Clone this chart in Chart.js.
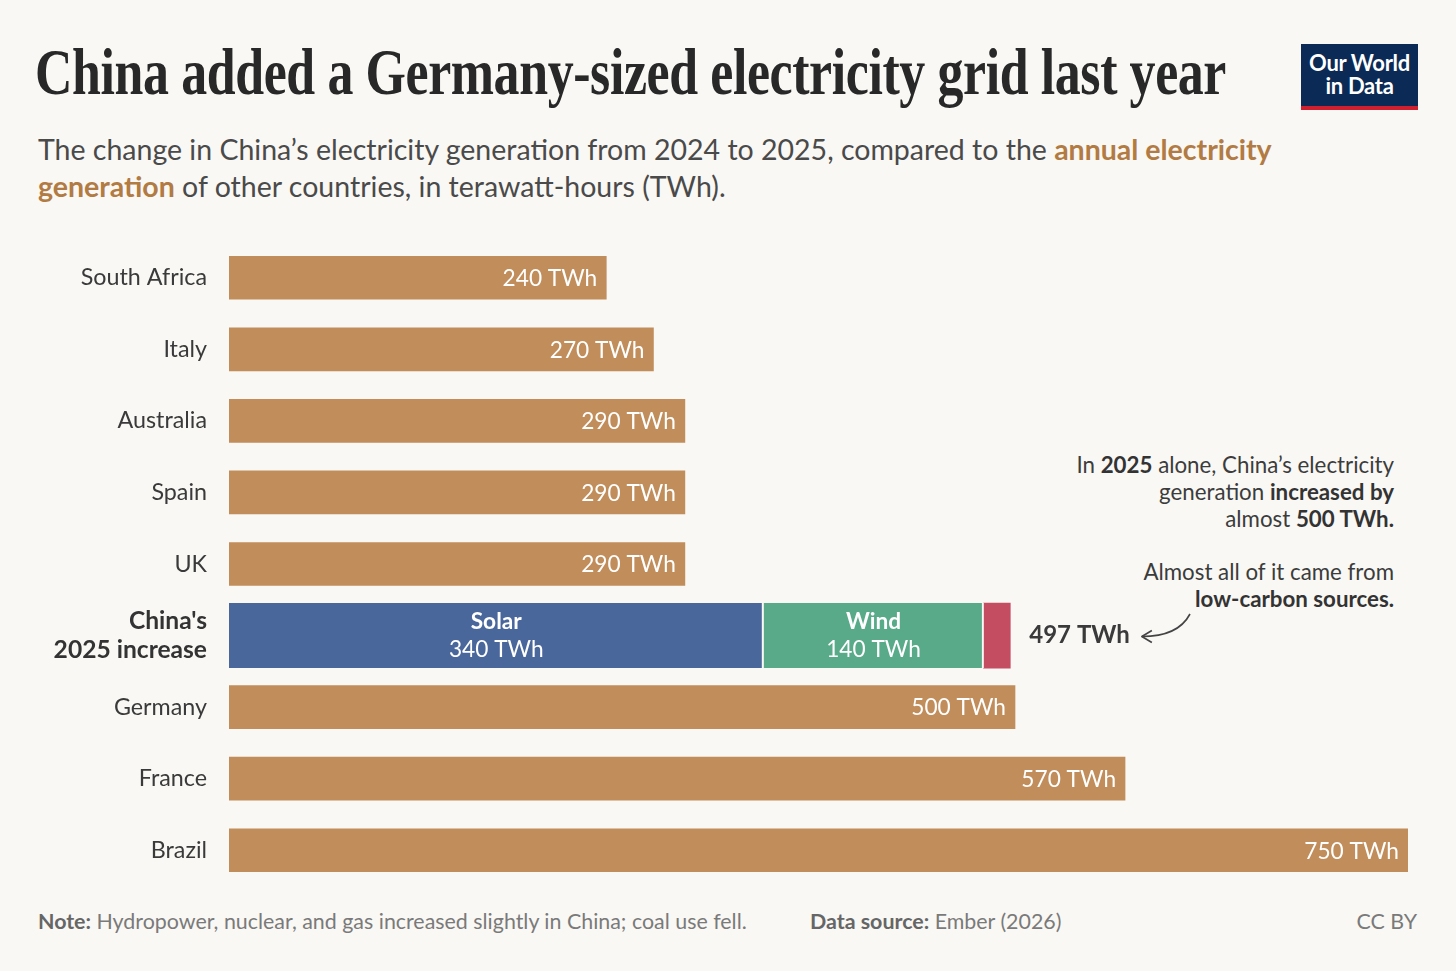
<!DOCTYPE html>
<html>
<head>
<meta charset="utf-8">
<script src="https://cdn.jsdelivr.net/npm/chart.js@4.4.1/dist/chart.umd.min.js"></script>
<style>
  html, body { margin:0; padding:0; background:#F9F8F4; width:1456px; height:971px; overflow:hidden; }
  body { position:relative; font-family: Lato, "Noto Sans", sans-serif; }
  #title { position:absolute; left:35px; top:34px; font-family:"Liberation Serif", "DejaVu Serif", serif; font-weight:700; font-size:66px; color:#282828; white-space:nowrap; transform-origin:0 0; letter-spacing:-0.5px; }
  #sub { position:absolute; left:38px; top:131px; font-size:28.5px; line-height:36.5px; color:#4a4a4a; width:1320px; }
  #sub b { color:#B27B43; font-weight:700; }
  #logo { position:absolute; left:1301px; top:44px; width:117px; height:66px; background:#0B2A55; border-bottom:4px solid #D0202F; box-sizing:border-box; color:#fff; text-align:center; font-weight:700; font-size:22px; line-height:23px; padding-top:7px; letter-spacing:-0.3px; }
  .ann { position:absolute; right:62px; text-align:right; font-size:22.3px; line-height:27px; color:#3c3c3c; white-space:nowrap; }
  .ann b { font-weight:700; color:#333; }
  .foot { position:absolute; top:908px; font-size:21.4px; color:#7a7a7a; white-space:nowrap; }
  .foot b { color:#666; font-weight:700; }
  canvas { position:absolute; left:0; top:0; }
</style>
</head>
<body>
<div id="title">China added a Germany-sized electricity grid last year</div>
<div id="sub">The change in China’s electricity generation from 2024 to 2025, compared to the <b>annual electricity generation</b> of other countries, in terawatt-hours (TWh).</div>
<div id="logo">Our World<br>in Data</div>
<div class="ann" style="top:451px;">In <b>2025</b> alone, China’s electricity<br>generation <b>increased by</b><br>almost <b>500 TWh.</b></div>
<div class="ann" style="top:558px;">Almost all of it came from<br><b>low-carbon sources.</b></div>
<div class="foot" style="left:38px;"><b>Note:</b> Hydropower, nuclear, and gas increased slightly in China; coal use fell.</div>
<div class="foot" style="left:810px;"><b>Data source:</b> Ember (2026)</div>
<div class="foot" style="right:39px;">CC BY</div>
<canvas id="c" width="1456" height="971"></canvas>
<script>
// ---- data ----
const categories = ["South Africa", "Italy", "Australia", "Spain", "UK", "China's 2025 increase", "Germany", "France", "Brazil"];
const countryGeneration = [240, 270, 290, 290, 290, null, 500, 570, 750];
const chinaSolar = [null, null, null, null, null, 340, null, null, null];
const chinaWind  = [null, null, null, null, null, 140, null, null, null];
const chinaOther = [null, null, null, null, null, 17, null, null, null];
const chinaTotal = 497;
const xMax = 750;
const unit = "TWh";

// fit title width
(function(){
  const t = document.getElementById('title');
  const w = t.getBoundingClientRect().width;
  t.style.transform = 'scaleX(' + (1191 / w) + ')';
})();

const BG = '#F9F8F4';
const labelPlugin = {
  id: 'labels',
  afterDatasetsDraw(chart) {
    const ctx = chart.ctx;
    ctx.save();
    const m0 = chart.getDatasetMeta(0);
    m0.data.forEach((el, i) => {
      const v = countryGeneration[i];
      if (v == null) return;
      ctx.font = '22.7px Lato';
      ctx.fillStyle = '#fff';
      ctx.textAlign = 'right';
      ctx.textBaseline = 'middle';
      ctx.fillText(v + ' ' + unit, el.x - 9, el.y + 1);
    });
    const segs = [[1, 'Solar', chinaSolar], [2, 'Wind', chinaWind]];
    segs.forEach(([di, name, arr]) => {
      const meta = chart.getDatasetMeta(di);
      meta.data.forEach((el, i) => {
        if (arr[i] == null) return;
        const cx = (el.x + el.base) / 2;
        ctx.fillStyle = '#fff';
        ctx.textAlign = 'center';
        ctx.textBaseline = 'middle';
        ctx.font = 'bold 22.7px Lato';
        ctx.fillText(name, cx, el.y - 14);
        ctx.font = '22.7px Lato';
        ctx.fillText(arr[i] + ' ' + unit, cx, el.y + 14);
      });
    });
    const m3 = chart.getDatasetMeta(3);
    m3.data.forEach((el, i) => {
      if (chinaOther[i] == null) return;
      ctx.fillStyle = '#3a3a3a';
      ctx.textAlign = 'left';
      ctx.textBaseline = 'middle';
      ctx.font = 'bold 24px Lato';
      const txt = chinaTotal + ' ' + unit;
      const lx = el.x + 19;
      ctx.fillText(txt, lx, el.y);
      // annotation arrow pointing at the total label
      const ex = lx + ctx.measureText(txt).width + 12;
      const ey = el.y + 1;
      const sx = Math.max(1190, ex + 45), sy = 614;
      ctx.strokeStyle = '#444';
      ctx.lineWidth = 1.6;
      ctx.beginPath();
      ctx.moveTo(sx, sy);
      ctx.quadraticCurveTo(sx - 12, ey, ex, ey);
      ctx.stroke();
      ctx.lineJoin = 'round';
      ctx.beginPath();
      ctx.moveTo(ex + 10, ey - 6);
      ctx.lineTo(ex, ey);
      ctx.lineTo(ex + 10, ey + 6);
      ctx.stroke();
    });
    ctx.restore();
  }
};

new Chart(document.getElementById('c'), {
  type: 'bar',
  data: {
    labels: categories.map(c => c === "China's 2025 increase" ? ["China's", "2025 increase"] : c),
    datasets: [
      { label: 'Countries', data: countryGeneration, backgroundColor: '#C08D5B', barThickness: 43 },
      { label: 'Solar', data: chinaSolar, backgroundColor: '#4A679C', barThickness: 65,
        borderColor: BG, borderWidth: {top:0, bottom:0, left:0, right:2}, borderSkipped: false },
      { label: 'Wind', data: chinaWind, backgroundColor: '#58AA88', barThickness: 65,
        borderColor: BG, borderWidth: {top:0, bottom:0, left:0, right:2}, borderSkipped: false },
      { label: 'Other', data: chinaOther, backgroundColor: '#C54D62', barThickness: 65 }
    ]
  },
  options: {
    indexAxis: 'y',
    responsive: false,
    animation: false,
    layout: { padding: { left: 0, right: 48, top: 242, bottom: 85 } },
    plugins: { legend: { display: false }, tooltip: { enabled: false } },
    scales: {
      x: { stacked: true, min: 0, max: xMax, display: false },
      y: {
        stacked: true,
        grid: { display: false, drawTicks: false },
        border: { display: false },
        afterFit(s) { s.width = 229; },
        ticks: {
          padding: 22,
          color: (c) => c.index === 5 ? '#333' : '#3a3a3a',
          font: (c) => c.index === 5 ? { family: 'Lato', size: 24.6, weight: 'bold', lineHeight: 1.15 } : { family: 'Lato', size: 23.3 }
        }
      }
    }
  },
  plugins: [labelPlugin]
});
</script>
</body>
</html>
